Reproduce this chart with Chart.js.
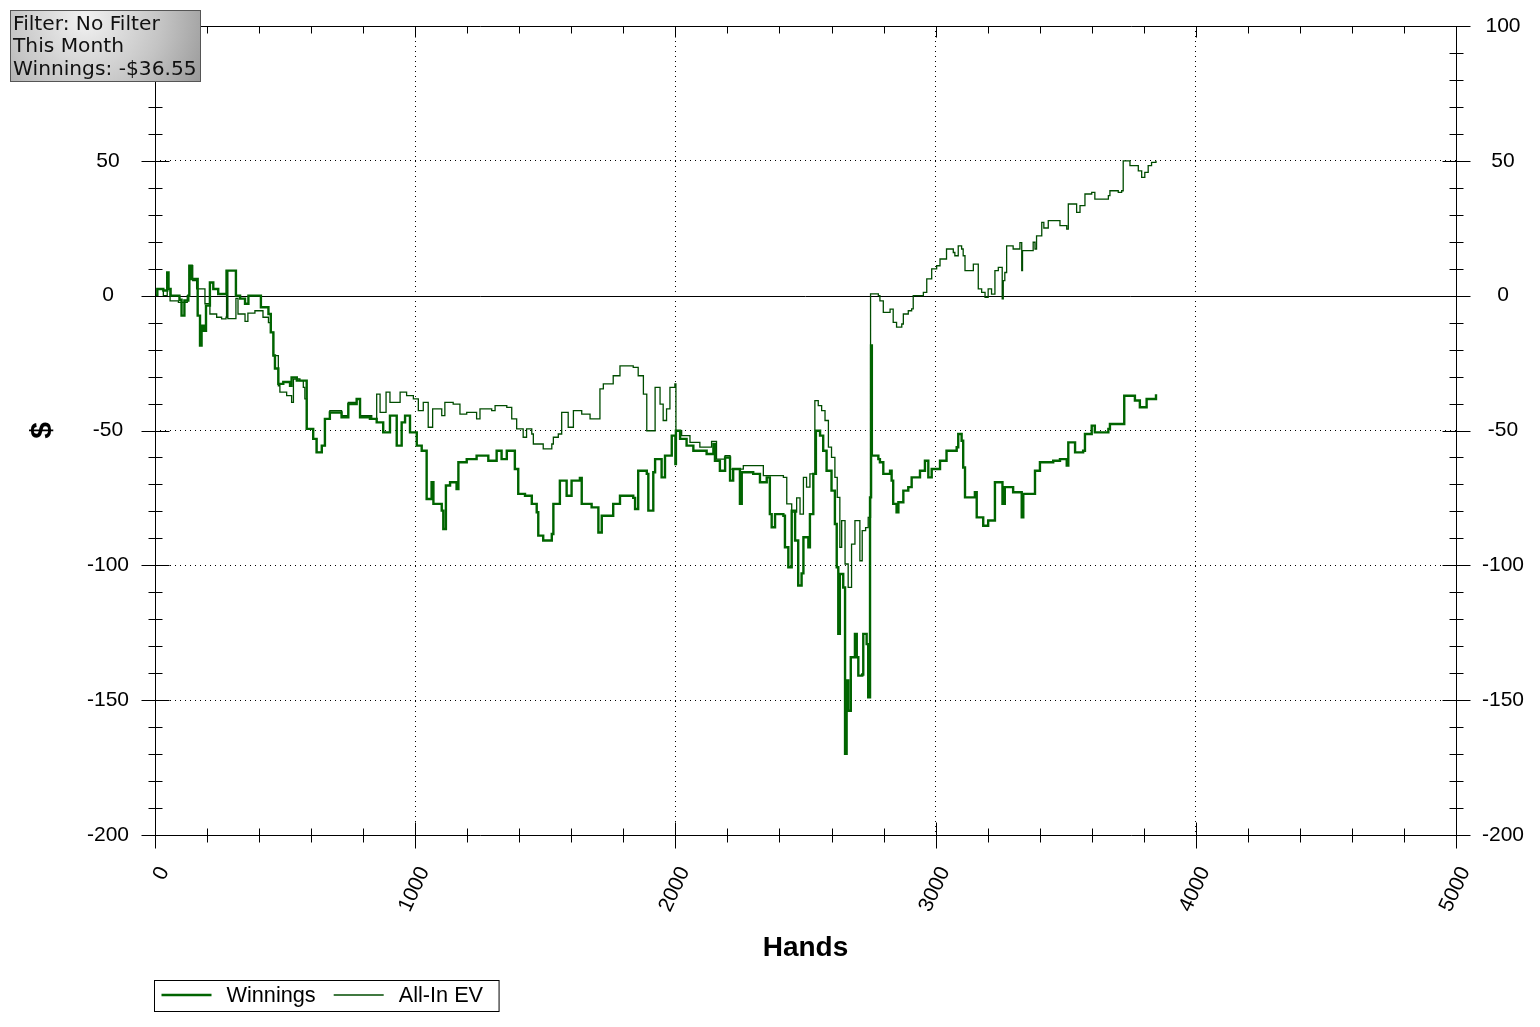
<!DOCTYPE html>
<html>
<head>
<meta charset="utf-8">
<script src="https://cdn.jsdelivr.net/npm/chart.js@4.4.0/dist/chart.umd.min.js"></script>
<style>
html, body { margin: 0; padding: 0; background: #ffffff; }
#wrap { position: relative; width: 1540px; height: 1027px; }
</style>
</head>
<body>
<div id="wrap"><canvas id="chart"></canvas></div>
<script>
// ---------- data ----------
const seriesLabels = ['Winnings', 'All-In EV'];
const xTitle = 'Hands';
const yTitle = '$';
const infoLines = ['Filter: No Filter', 'This Month', 'Winnings: -$36.55'];

const xMin = 0, xMax = 5000, xMajorStep = 1000, xMinorStep = 200;
const yMin = -200, yMax = 100, yMajorStep = 50, yMinorStep = 10;

const winHands = [0,9,32,47,52,60,94,102,113,128,132,141,164,173,179,188,196,211,224,243,275,311,327,346,359,407,436,445,455,461,474,493,519,525,545,583,608,621,641,653,672,717,743,775,788,826,852,877,903,929,948,961,980,1006,1025,1044,1063,1070,1102,1108,1118,1134,1159,1166,1198,1236,1281,1313,1332,1352,1383,1396,1422,1448,1467,1473,1492,1525,1531,1556,1582,1601,1633,1640,1678,1704,1717,1761,1787,1838,1845,1857,1890,1896,1915,1922,1947,1960,1986,2000,2002,2018,2043,2069,2120,2146,2152,2171,2191,2210,2222,2248,2255,2299,2325,2351,2363,2370,2383,2415,2421,2434,2447,2460,2472,2485,2492,2511,2517,2530,2540,2556,2568,2581,2600,2613,2620,2626,2632,2645,2652,2658,2664,2674,2690,2697,2703,2718,2722,2735,2741,2748,2752,2755,2780,2786,2799,2825,2831,2837,2850,2857,2876,2895,2908,2940,2959,2972,2985,3017,3042,3081,3087,3100,3106,3113,3151,3158,3183,3202,3228,3257,3266,3298,3331,3337,3375,3382,3401,3452,3478,3504,3510,3536,3567,3574,3600,3612,3664,3670,3721,3725,3766,3785,3811,3847];
const winValues = [0,2.5,1.9,8.6,2.5,0,-1.5,-7.4,-1.8,0,11.1,6.2,-7.4,-18.5,-11.1,-13,-3.7,4.9,2.5,0.6,9.3,0,-1.1,-3,0,-4.3,-6.8,-13.6,-22.2,-27,-32.7,-32,-33.4,-30.3,-31.5,-49.4,-53.1,-58.1,-55.6,-45.7,-43.3,-45.1,-40.2,-38.3,-45.1,-45.7,-47,-50.7,-44.5,-55.6,-47,-44.5,-50.7,-55.6,-57.5,-75.4,-69.2,-77.2,-79.7,-86.5,-70.4,-69.2,-71.7,-61.8,-60.6,-59.3,-61.2,-57.5,-60.6,-57.5,-64.3,-73.5,-74.2,-77.2,-80.3,-89,-90.8,-88.4,-77.2,-68.6,-74.2,-68.6,-67.6,-77.2,-78.5,-87.8,-81.6,-77.2,-74.2,-75,-79.1,-64.9,-66.1,-79.7,-65.5,-60.6,-67.4,-59.3,-51.9,-62.4,-50.1,-53.1,-55.6,-57.5,-58.7,-55,-61.2,-64.9,-60,-68.6,-64.3,-77.2,-65.5,-66.1,-69.2,-67.4,-81,-85.9,-81,-81.6,-93.3,-100.7,-79.7,-90.8,-107.5,-103,-89.6,-93.3,-81,-66.1,-50.1,-51.9,-57.5,-64.9,-72.3,-84.7,-100.7,-125.4,-103.2,-108.2,-169.9,-142.7,-153.9,-134.1,-125.4,-134.1,-140.9,-140.5,-125.4,-129.2,-148.9,-74.8,-18.5,-59.3,-60.6,-61.8,-66.1,-64.9,-68.6,-77.2,-80.3,-76.6,-72.3,-71,-67.4,-64.9,-61.2,-67.4,-64.3,-61.2,-57.5,-56.2,-51.3,-53.8,-63.7,-74.8,-72.9,-82.2,-85.3,-83.4,-69.2,-77.2,-71,-72.9,-82.2,-73.5,-73.5,-64.9,-61.8,-61.2,-60.6,-63,-54.4,-58.1,-57.5,-51.3,-48.2,-50.7,-49.4,-47.6,-47.6,-37.1,-38.9,-41.4,-38.3,-36.55];

const evHands = [0,9,32,47,58,90,124,132,145,160,192,211,237,256,273,275,280,311,319,346,357,384,415,436,445,455,474,480,506,525,532,557,570,576,583,608,621,641,653,672,717,743,775,788,833,852,865,888,903,942,967,993,1012,1031,1050,1067,1102,1114,1146,1172,1198,1236,1249,1294,1307,1352,1371,1390,1415,1428,1448,1454,1492,1525,1531,1550,1563,1588,1608,1640,1672,1710,1723,1761,1787,1838,1857,1877,1890,1922,1941,1953,1966,1979,1998,2002,2024,2056,2094,2139,2158,2191,2210,2261,2338,2415,2428,2447,2466,2479,2492,2504,2517,2536,2549,2562,2575,2588,2600,2613,2622,2632,2639,2652,2664,2677,2690,2709,2718,2731,2741,2750,2780,2786,2799,2825,2837,2850,2870,2876,2895,2908,2914,2953,2966,2985,3004,3017,3042,3068,3074,3087,3100,3106,3113,3145,3164,3177,3190,3202,3215,3228,3241,3256,3260,3266,3273,3298,3324,3331,3334,3375,3382,3388,3408,3416,3433,3478,3504,3510,3542,3555,3574,3600,3612,3664,3670,3702,3715,3721,3747,3779,3792,3804,3817,3830,3847];
const evValues = [0,2.5,0,2.5,-1.9,-2.5,0,11.1,5.6,2.5,-3,-6.8,-8,-8.6,-8,9.3,-8.5,-1,-6.8,-9.5,-6.5,-5.6,-8,-10,-13.6,-22.2,-33.4,-35.8,-37.1,-39.6,-30.9,-31.5,-34,-38.3,-49.4,-53.1,-58.1,-55.6,-45.7,-42.6,-44.5,-39.6,-38.3,-44.5,-45.7,-36.5,-43.3,-35.8,-39.6,-35.8,-37.1,-38.3,-42.6,-39.6,-48.8,-42,-44.5,-39.6,-40.2,-43.9,-43.3,-45.7,-42,-42.6,-40.8,-41.4,-45.7,-49.4,-52.5,-49.4,-51.3,-55,-56.8,-55,-52.5,-51.3,-43.3,-48.8,-42.6,-43.9,-45.7,-34.6,-32.7,-29.7,-26,-26.6,-29.7,-36.5,-50.1,-34,-40.2,-46.3,-42,-34,-32.7,-50.1,-51.9,-54.4,-56.2,-54,-60.6,-59.3,-64.3,-63,-66.7,-67.4,-77.2,-80.3,-75,-81,-67.4,-71,-66.1,-38.9,-40.8,-42.6,-46.3,-56.2,-60,-67.4,-74.8,-93.3,-83.4,-99.5,-108.2,-92.1,-83.4,-98.3,-87.1,-86,-82.2,0.7,0,-1.9,-6.2,-5,-9.9,-11.7,-10.5,-6.8,-5.6,-4.9,0,1.2,6.2,9.9,11.1,13.6,17.3,16,14.8,18.5,17.3,14.8,9.3,11.7,2.5,1.2,-0.6,2.5,0.6,9.3,10.5,-1.2,5.6,8.6,18.5,17.3,19.7,9.3,16.7,19.8,17.3,22.2,27.2,25.1,27.8,26,24.7,34,30.9,33.4,37.7,38.3,35.8,37.1,38.9,38.3,38.9,50,48.2,46.3,43.9,45.7,48.2,49.4,50];

// ---------- helpers ----------
const toPoints = (xs, ys) => xs.map((h, i) => ({ x: h, y: ys[i] }));
const GREEN = '#006400';
const GREEN_THIN = '#004c00';
const AXIS_FONT = { family: '"Liberation Sans", Arial, sans-serif', size: 21 };

const decoPlugin = {
  id: 'deco',
  beforeDatasetsDraw(chart) {
    const { ctx, chartArea: a, scales: { y } } = chart;
    ctx.save();
    ctx.strokeStyle = '#000';
    ctx.lineWidth = 1;
    const y0 = Math.round(y.getPixelForValue(0)) + 0.5;
    ctx.beginPath();
    ctx.moveTo(a.left, y0);
    ctx.lineTo(a.right, y0);
    ctx.stroke();
    ctx.restore();
  },
  afterDatasetsDraw(chart) {
    const { ctx, chartArea: a, scales: { x, y } } = chart;
    ctx.save();
    ctx.strokeStyle = '#000';
    ctx.lineWidth = 1;
    const L = Math.round(a.left) + 0.5, R = Math.round(a.right) + 0.5;
    const T = Math.round(a.top) + 0.5, B = Math.round(a.bottom) + 0.5;
    ctx.beginPath();
    ctx.rect(L, T, R - L, B - T);
    for (let v = yMin; v <= yMax; v += yMinorStep) {
      const py = Math.round(y.getPixelForValue(v)) + 0.5;
      const h = (v % yMajorStep === 0) ? 14 : 7;
      ctx.moveTo(L - h, py); ctx.lineTo(L + h, py);
      ctx.moveTo(R - h, py); ctx.lineTo(R + h, py);
    }
    for (let v = xMin; v <= xMax; v += xMinorStep) {
      const px = Math.round(x.getPixelForValue(v)) + 0.5;
      const major = v % xMajorStep === 0;
      const h = major ? 13 : 7;
      ctx.moveTo(px, B - h); ctx.lineTo(px, B + h);
      ctx.moveTo(px, T); ctx.lineTo(px, T + (major ? 11 : 7));
    }
    ctx.stroke();
    ctx.restore();
  },
  afterDraw(chart) {
    const { ctx, chartArea: a } = chart;
    // legend
    ctx.save();
    ctx.font = '21.7px "Liberation Sans", Arial, sans-serif';
    ctx.textBaseline = 'alphabetic';
    const boxL = Math.round(a.left) - 0.5, boxT = 980.5, boxH = 31;
    const mid = 995;
    let xx = boxL + 7;
    chart.data.datasets.forEach((ds, i) => {
      ctx.strokeStyle = ds.borderColor;
      ctx.lineWidth = ds.borderWidth;
      ctx.beginPath();
      ctx.moveTo(xx, mid);
      ctx.lineTo(xx + 50, mid);
      ctx.stroke();
      xx += 50 + 15;
      ctx.fillStyle = '#000';
      ctx.fillText(ds.label, xx, 1002);
      xx += ctx.measureText(ds.label).width + (i === 0 ? 18 : 16);
    });
    ctx.strokeStyle = '#000';
    ctx.lineWidth = 1;
    ctx.strokeRect(boxL, boxT, xx - boxL, boxH);
    ctx.restore();

    // info box
    ctx.save();
    const bx = 10.5, by = 10.5, bw = 190, bh = 71;
    const g = ctx.createRadialGradient(85, 18, 0, 85, 18, 170);
    g.addColorStop(0, '#f2f2f2');
    g.addColorStop(0.45, '#c4c4c4');
    g.addColorStop(1, '#7c7c7c');
    ctx.fillStyle = g;
    ctx.fillRect(bx, by, bw, bh);
    ctx.strokeStyle = '#555';
    ctx.lineWidth = 1;
    ctx.strokeRect(bx, by, bw, bh);
    ctx.fillStyle = '#111';
    ctx.font = '20.2px "DejaVu Sans", Verdana, sans-serif';
    ctx.textBaseline = 'alphabetic';
    infoLines.forEach((t, i) => ctx.fillText(t, 13, 29.5 + i * 22.8));
    ctx.restore();
  }
};

const yTickCfg = {
  stepSize: yMajorStep,
  font: AXIS_FONT,
  color: '#000',
  padding: 26,
  crossAlign: 'center',
  autoSkip: false
};
const hiddenEdge = (ctx, edges) => edges.includes(ctx.tick && ctx.tick.value) ? 'rgba(0,0,0,0)' : '#000';
const fixY = (w) => (s) => { s.width = w; s.paddingTop = 0; s.paddingBottom = 0; };

new Chart(document.getElementById('chart'), {
  type: 'line',
  data: {
    datasets: [
      { label: seriesLabels[0], data: toPoints(winHands, winValues), borderColor: GREEN, borderWidth: 2.4, pointRadius: 0, stepped: true, fill: false },
      { label: seriesLabels[1], data: toPoints(evHands, evValues), borderColor: GREEN_THIN, borderWidth: 1.3, pointRadius: 0, stepped: true, fill: false }
    ]
  },
  options: {
    responsive: true,
    maintainAspectRatio: false,
    animation: false,
    devicePixelRatio: 1,
    layout: { padding: { top: 26, left: 0, right: 0, bottom: 0 } },
    plugins: { legend: { display: false }, tooltip: { enabled: false } },
    scales: {
      x: {
        type: 'linear',
        min: xMin, max: xMax,
        afterFit(s) { s.height = 192; },
        ticks: { stepSize: xMajorStep, font: AXIS_FONT, color: '#000', minRotation: 65, maxRotation: 65, labelOffset: 9, padding: 28, callback: (v) => String(v) },
        grid: { drawTicks: false, color: (c) => hiddenEdge(c, [xMin, xMax]), lineWidth: 1 },
        border: { display: false, dash: [1, 4] },
        title: { display: true, text: xTitle, color: '#000', font: { family: '"Liberation Sans", Arial, sans-serif', size: 28, weight: 'bold' }, padding: { top: 0, bottom: 62 } }
      },
      y: {
        type: 'linear',
        position: 'left',
        min: yMin, max: yMax,
        afterFit: fixY(155),
        ticks: yTickCfg,
        grid: { drawTicks: false, color: (c) => hiddenEdge(c, [yMin, 0, yMax]), lineWidth: 1 },
        border: { display: false, dash: [1, 4] },
        title: { display: true, text: yTitle, color: '#000', font: { family: '"Liberation Sans", Arial, sans-serif', size: 30, weight: 'bold' }, padding: { top: 25, bottom: 0 } }
      },
      y2: {
        type: 'linear',
        position: 'right',
        min: yMin, max: yMax,
        afterFit: fixY(84),
        ticks: yTickCfg,
        grid: { display: false, drawTicks: false },
        border: { display: false }
      }
    }
  },
  plugins: [decoPlugin]
});
</script>
</body>
</html>
